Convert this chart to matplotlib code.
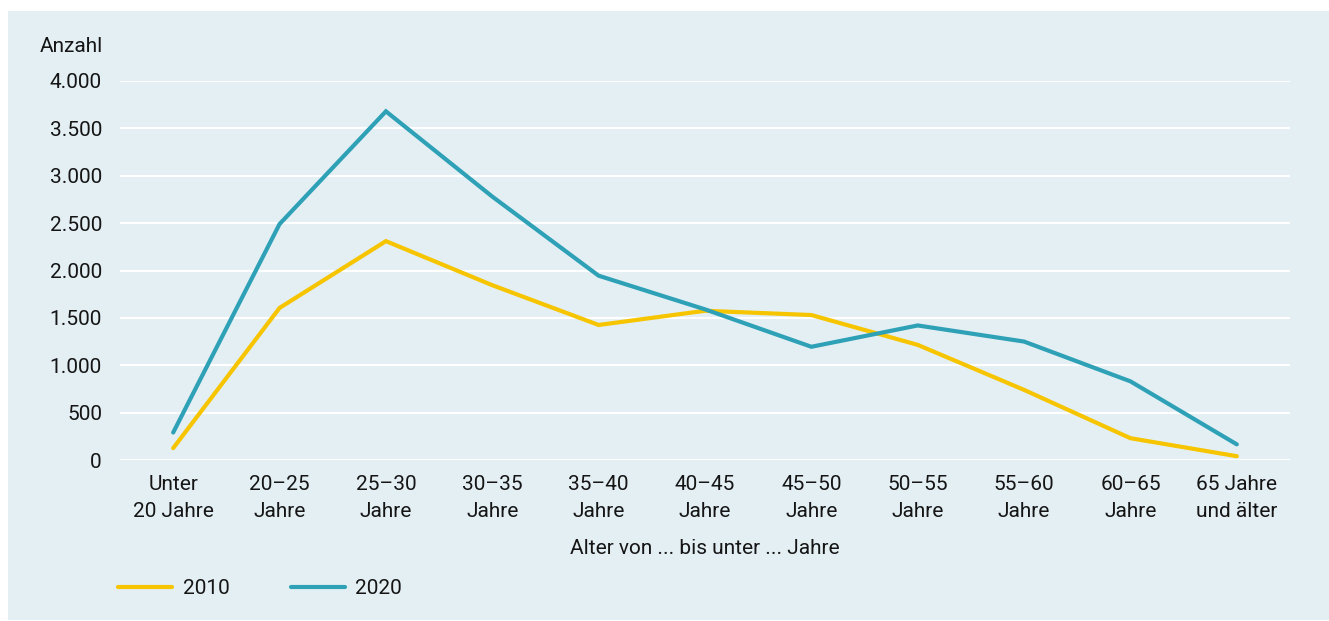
import matplotlib
matplotlib.use('Agg')
import matplotlib.pyplot as plt
from matplotlib.patches import Rectangle

plt.rcParams['font.family'] = ['Roboto', 'DejaVu Sans']

categories = ['Unter\n20 Jahre', '20–25\nJahre', '25–30\nJahre', '30–35\nJahre',
              '35–40\nJahre', '40–45\nJahre', '45–50\nJahre', '50–55\nJahre',
              '55–60\nJahre', '60–65\nJahre', '65 Jahre\nund älter']
values_2010 = [125, 1605, 2310, 1845, 1425, 1575, 1530, 1215, 740, 230, 40]
values_2020 = [290, 2490, 3680, 2780, 1945, 1590, 1195, 1420, 1250, 830, 165]
yticks = [0, 500, 1000, 1500, 2000, 2500, 3000, 3500, 4000]
ytick_labels = ['0', '500', '1.000', '1.500', '2.000', '2.500', '3.000', '3.500', '4.000']

BG = '#e4eff4'
YELLOW = '#f6c500'
TEAL = '#2ea1b7'
TXT = '#151515'
FS = 15
W, H = 1329, 621

fig = plt.figure(figsize=(W / 100, H / 100), dpi=100)
fig.patches.append(Rectangle((8 / W, 1 / H), 1 - 8 / W, (H - 11 - 1) / H,
                             transform=fig.transFigure, facecolor=BG,
                             edgecolor='none', zorder=-1))

ax = fig.add_axes([120 / W, 161 / H, 1170 / W, 379 / H])
ax.set_facecolor(BG)
x = list(range(len(categories)))
ax.plot(x, values_2010, color=YELLOW, lw=3, solid_capstyle='round',
        solid_joinstyle='miter', label='2010', clip_on=False, zorder=3)
ax.plot(x, values_2020, color=TEAL, lw=3, solid_capstyle='round',
        solid_joinstyle='miter', label='2020', clip_on=False, zorder=3)

ax.set_xlim(-0.5, len(categories) - 0.5)
ax.set_ylim(0, 4000)
ax.set_yticks(yticks)
ax.set_yticklabels(ytick_labels)
ax.set_xticks(x)
ax.set_xticklabels(categories)
for lbl in ax.get_xticklabels():
    lbl.set_linespacing(1.5)
ax.tick_params(axis='both', length=0, labelsize=FS, colors=TXT)
ax.tick_params(axis='y', pad=13)
ax.tick_params(axis='x', pad=11)
ax.grid(axis='y', color='white', lw=1.5)
ax.set_axisbelow(True)
for s in ax.spines.values():
    s.set_visible(False)

fig.text(103 / W, 1 - 46 / H, 'Anzahl', ha='right', va='center',
         fontsize=FS, color=TXT)
fig.text(705 / W, 1 - 548 / H, 'Alter von ... bis unter ... Jahre', ha='center',
         va='center', fontsize=FS, color=TXT)

leg = fig.legend(loc='center left', bbox_to_anchor=(118 / W, 1 - 589 / H),
                 ncol=2, frameon=False, fontsize=FS, handlelength=2.6,
                 handletextpad=0.5, columnspacing=2.95, borderpad=0,
                 borderaxespad=0)
for t in leg.get_texts():
    t.set_color(TXT)

fig.savefig('out.png', dpi=100, facecolor='white')
